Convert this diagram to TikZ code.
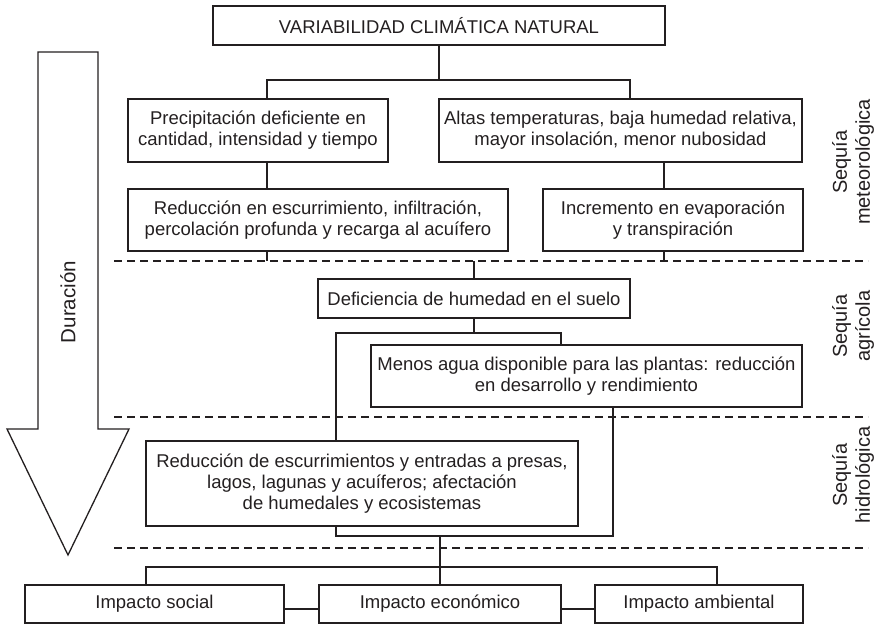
\documentclass[tikz,border=0pt]{standalone}
\usepackage{fontspec}
\setmainfont{Liberation Sans}
\definecolor{ink}{RGB}{35,31,32}
\begin{document}
\begin{tikzpicture}[x=1pt,y=-1pt,
  box/.style={draw=ink, line width=1.3pt, inner sep=0pt, align=center, text=ink, font=\fontsize{18.5}{21}\selectfont},
  conn/.style={draw=ink, line width=1.2pt},
  sepline/.style={draw=ink, line width=1.1pt, dash pattern=on 8pt off 5pt},
  side/.style={rotate=90, align=center, text=ink, inner sep=0pt, font=\fontsize{20}{23}\selectfont}]
\useasboundingbox (0,0) rectangle (878,625);

% boxes
\node[box, minimum width=452pt, minimum height=39pt] (top) at (439,25.5) {VARIABILIDAD CLIMÁTICA NATURAL};
\node[box, minimum width=260pt, minimum height=63pt] (prec) at (258,130.5) {Precipitación deficiente en\\cantidad, intensidad y tiempo};
\node[box, minimum width=363pt, minimum height=63pt] (altas) at (620.5,130.5) {Altas temperaturas, baja humedad relativa,\\mayor insolación, menor nubosidad};
\node[box, minimum width=380pt, minimum height=62pt] (red1) at (318,220) {Reducción en escurrimiento, infiltración,\\percolación profunda y recarga al acuífero};
\node[box, minimum width=260pt, minimum height=62pt] (incr) at (673,220) {Incremento en evaporación\\y transpiración};
\node[box, minimum width=312pt, minimum height=39pt] (defi) at (474,298.5) {Deficiencia de humedad en el suelo};
\node[box, minimum width=431pt, minimum height=62pt] (menos) at (586.5,376) {Menos agua disponible para las plantas: reducción\\en desarrollo y rendimiento};
\node[box, minimum width=432pt, minimum height=85pt] (hidro) at (362,483.5) {Reducción de escurrimientos y entradas a presas,\\lagos, lagunas y acuíferos; afectación\\de humedales y ecosistemas};
\node[box, minimum width=259pt, minimum height=38pt] (social) at (154.5,604) {Impacto social};
\node[box, minimum width=242pt, minimum height=38pt] (econ) at (440,604) {Impacto económico};
\node[box, minimum width=208pt, minimum height=38pt] (amb) at (699,604) {Impacto ambiental};

% helper coordinates
\coordinate (xa) at (267,0);
\coordinate (xb) at (630,0);
\coordinate (xc) at (664,0);
\coordinate (xd) at (336,0);
\coordinate (xe) at (561,0);
\coordinate (xf) at (613,0);
\coordinate (xg) at (146,0);
\coordinate (xh) at (717,0);
\coordinate (j1) at (439,80);
\coordinate (j2) at (474,333);
\coordinate (j3) at (440,536);
\coordinate (j4) at (440,567);

% dashed separators
\coordinate (d1l) at (114,261); \coordinate (d1r) at (868,261);
\coordinate (d2l) at (114,417); \coordinate (d2r) at (868,417);
\coordinate (d3l) at (114,548); \coordinate (d3r) at (868,548);
\draw[sepline] (d1l) -- (d1r);
\draw[sepline] (d2l) -- (d2r);
\draw[sepline] (d3l) -- (d3r);

% connectors
\draw[conn] (top.south) -- (j1);
\draw[conn] (prec.north -| xa) |- (j1) -| (altas.north -| xb);
\draw[conn] (prec.south -| xa) -- (red1.north -| xa);
\draw[conn] (altas.south -| xc) -- (incr.north -| xc);
\draw[conn] (red1.south -| xa) -- (d1l -| xa);
\draw[conn] (incr.south -| xc) -- (d1l -| xc);
\draw[conn] (d1l -| defi.north) -- (defi.north);
\draw[conn] (defi.south) -- (j2);
\draw[conn] (hidro.north -| xd) |- (j2) -| (menos.north -| xe);
\draw[conn] (menos.south -| xf) |- (j3);
\draw[conn] (hidro.south -| xd) |- (j3);
\draw[conn] (j3) -- (j4);
\draw[conn] (social.north -| xg) |- (j4) -| (amb.north -| xh);
\draw[conn] (j4) -- (econ.north);
\draw[conn] ([yshift=-5pt]social.east) -- ([yshift=-5pt]econ.west);
\draw[conn] ([yshift=-5pt]econ.east) -- ([yshift=-5pt]amb.west);

% duration arrow
\draw[draw=ink, line width=1.3pt, line join=miter] (38,52) -- (98,52) -- (98,429) -- (129,429) -- (68,555) -- (7,429) -- (38,429) -- cycle;
\node[side, font=\fontsize{20.5}{23}\selectfont] (dur) at (68,302) {Duración};

% side labels
\node[side] (met) at (853,162) {Sequía\\meteorológica};
\node[side] (agr) at (853,326) {Sequía\\agrícola};
\node[side] (hid) at (853,475) {Sequía\\hidrológica};
\end{tikzpicture}
\end{document}
